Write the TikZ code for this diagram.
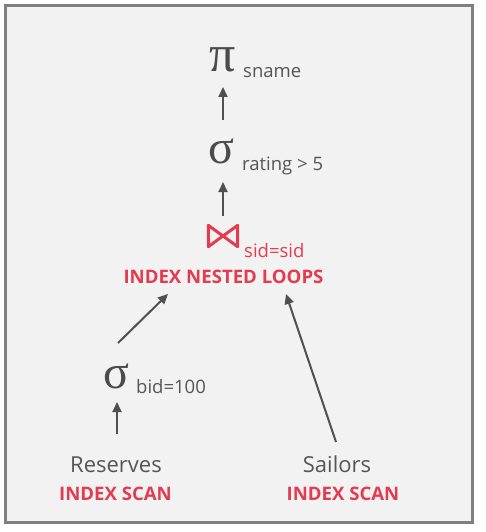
\documentclass[tikz,border=0pt]{standalone}
\usepackage{fontspec}
\setmainfont{Open Sans}
\newfontfamily\greekop{Liberation Serif}
\usetikzlibrary{arrows.meta,calc}
\definecolor{txt}{RGB}{85,85,85}
\definecolor{optxt}{RGB}{75,75,75}
\definecolor{acc}{RGB}{227,60,80}
\definecolor{arr}{RGB}{80,80,80}
\definecolor{bg}{RGB}{242,242,242}
\definecolor{framec}{RGB}{128,128,128}
\begin{document}
\begin{tikzpicture}[x=1pt,y=-1pt,
  op/.style={inner sep=0pt, anchor=base, text=optxt, font=\greekop\fontsize{48}{48}\selectfont},
  sub/.style={inner sep=0pt, anchor=base west, text=txt, font=\fontsize{18.5}{20}\selectfont},
  rel/.style={inner sep=0pt, anchor=base, text=txt, font=\fontsize{22}{24}\selectfont},
  algo/.style={inner sep=0pt, anchor=base, text=acc, font=\bfseries\fontsize{18.6}{20}\selectfont},
  flow/.style={draw=arr, line width=2pt, -{Triangle[length=10pt,width=9pt]}}]
\useasboundingbox (0,0) rectangle (486,532);
\fill[white] (0,0) rectangle (486,532);
\draw[framec, fill=bg, line width=3pt] (5.5,5.5) rectangle (472.5,522.5);
% projection
\node[op, font=\greekop\fontsize{52}{52}\selectfont] (pi) at (223,72) {π};
\node[sub] (pisub) at (243,78) {sname};
% selection rating
\node[op] (sigR) at (221,163) {σ};
\node[sub] (sigRsub) at (242,170) {rating > 5};
% join
\node[inner sep=0pt, minimum width=29pt, minimum height=21pt] (join) at (223,236) {};
\draw[acc, line width=3pt, line join=round, line cap=round]
  (join.north west) -- (join.south west) -- (join.north east) -- (join.south east) -- cycle;
\node[sub, text=acc] (joinsub) at (244,257) {sid=sid};
\node[algo] (nlj) at (223.5,283) {INDEX NESTED LOOPS};
% selection bid
\node[op] (sigB) at (116,388) {σ};
\node[sub] (sigBsub) at (136,393) {bid=100};
% relations
\node[rel] (res) at (116,472) {Reserves};
\node[algo] (resalg) at (115.5,500) {INDEX SCAN};
\node[rel] (sail) at (337,472) {Sailors};
\node[algo] (sailalg) at (343,500) {INDEX SCAN};
% connectors
\draw[flow] ($(sigR.base)+(2,-43)$) -- ($(pi.base)+(0,15)$);
\draw[flow] ($(join.north)+(0,-9)$) -- ($(sigR.base)+(2,19)$);
\draw[flow] ($(sigB.base)+(2,-45)$) -- ($(nlj.base)+(-55.5,11)$);
\draw[flow] ($(sail.base)+(-1,-30)$) -- ($(nlj.base)+(62.5,11)$);
\draw[flow] ($(res.base)+(1,-38)$) -- ($(sigB.base)+(1,14)$);
\end{tikzpicture}
\end{document}
